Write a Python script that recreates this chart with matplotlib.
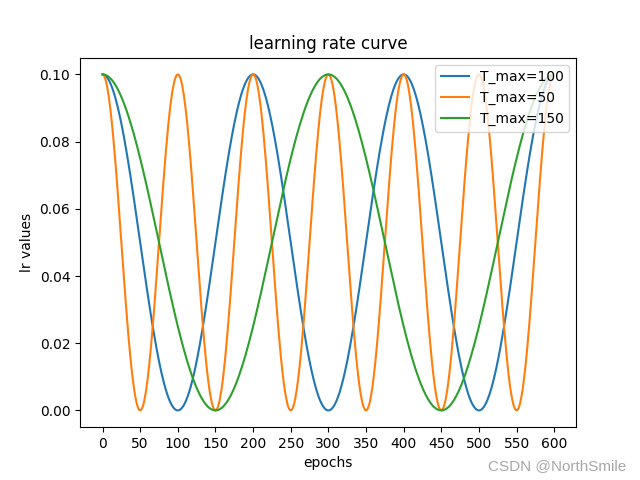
import numpy as np
import matplotlib
matplotlib.use("Agg")
import matplotlib.pyplot as plt

t_max_values = [100, 50, 150]
labels = ["T_max=100", "T_max=50", "T_max=150"]
lr_max = 0.1
lr_min = 0.0
n_epochs = 600
xticks = list(range(0, 601, 50))

epochs = np.arange(n_epochs)

fig, ax = plt.subplots(figsize=(6.4, 4.8), dpi=100)
for T, lab in zip(t_max_values, labels):
    lr = lr_min + 0.5 * (lr_max - lr_min) * (1 + np.cos(np.pi * epochs / T))
    ax.plot(epochs, lr, label=lab)

ax.set_xticks(xticks)
ax.set_title("learning rate curve")
ax.set_xlabel("epochs")
ax.set_ylabel("lr values")
ax.legend(loc="upper right")
fig.text(0.978, 0.014, "CSDN @NorthSmile", ha="right", va="bottom",
         color="#a8a8a8", fontsize=11, family="Liberation Sans")
fig.savefig("out.png", dpi=100)
